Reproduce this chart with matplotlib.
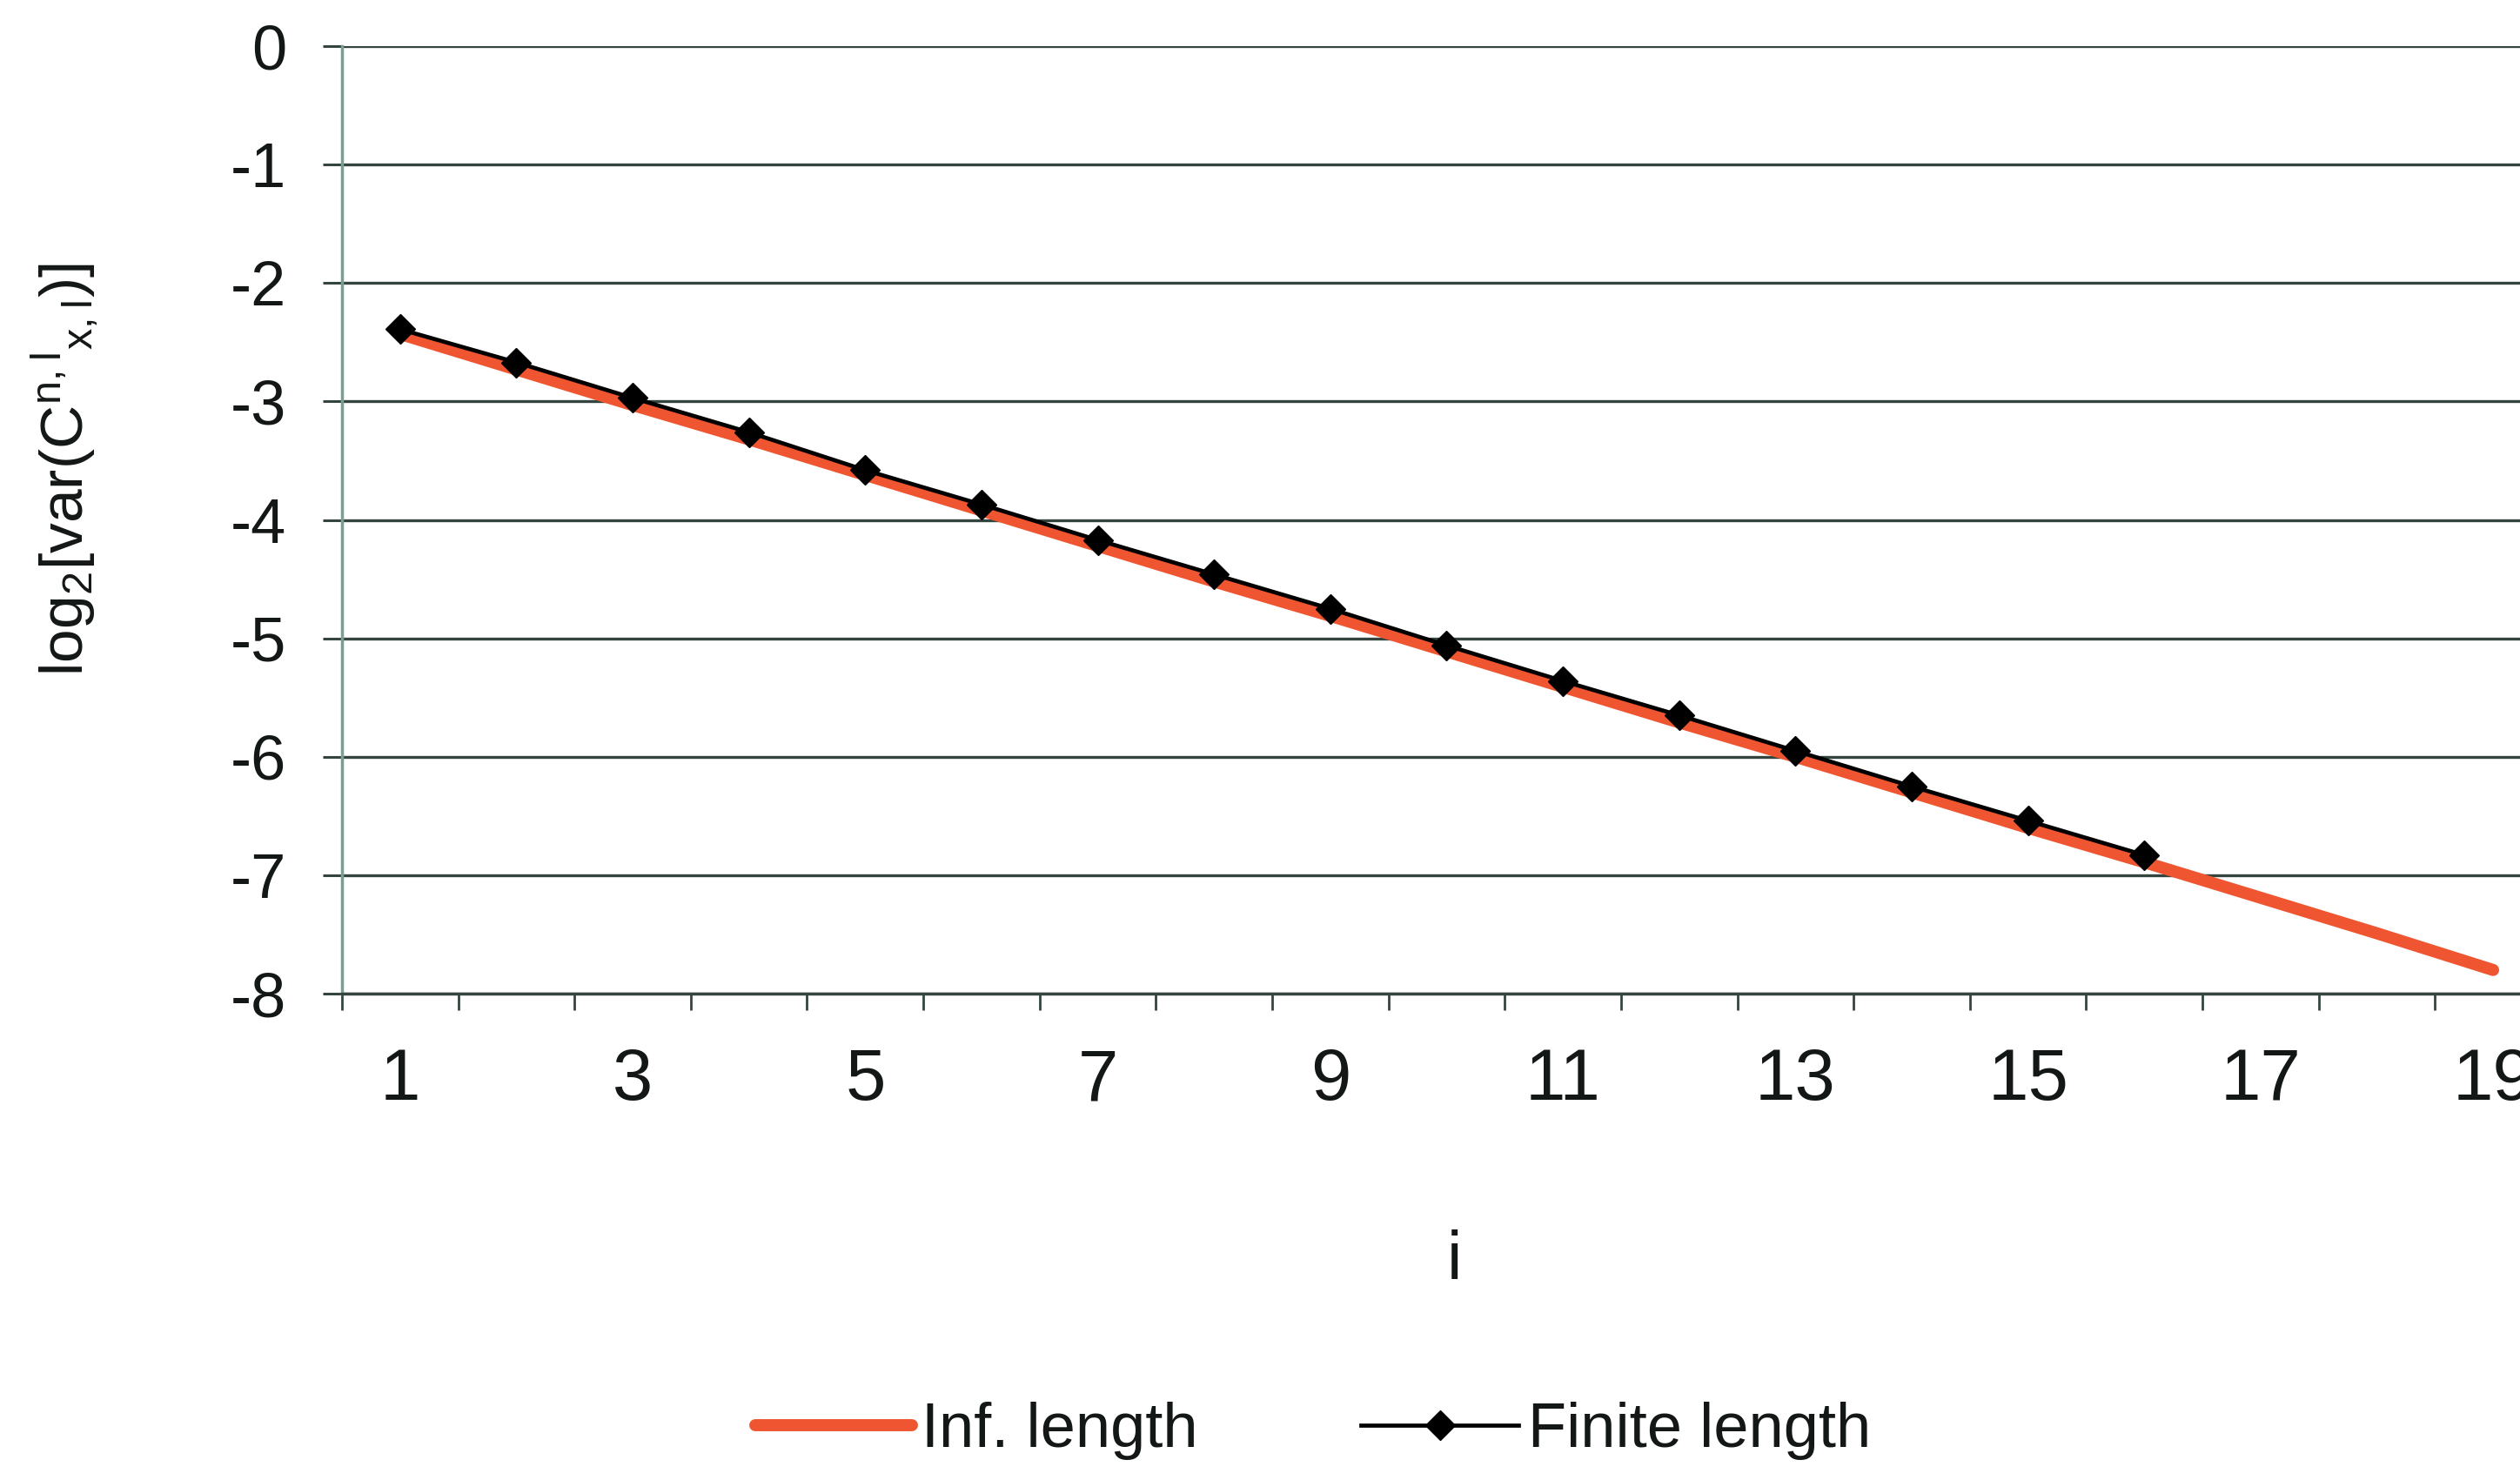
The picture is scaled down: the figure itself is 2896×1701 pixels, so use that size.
import numpy as np
import matplotlib.pyplot as plt

plt.rcParams['font.family'] = ['Liberation Sans', 'DejaVu Sans']
plt.rcParams['mathtext.default'] = 'regular'

# log2 of the variance per level i
i_inf = np.arange(1, 20)
inf_length = [-2.43, -2.73, -3.03, -3.32, -3.62, -3.92, -4.22, -4.52, -4.81, -5.11,
              -5.41, -5.71, -6.00, -6.30, -6.60, -6.89, -7.19, -7.49, -7.80]

i_fin = np.arange(1, 17)
finite_length = [-2.39, -2.67, -2.97, -3.26, -3.58, -3.87, -4.17, -4.46, -4.75, -5.06,
                 -5.36, -5.65, -5.95, -6.25, -6.54, -6.83]

xlabels = [str(k) for k in range(1, 20, 2)]
yticks = list(range(0, -9, -1))

text_col = '#131715'
grid_col = '#34453f'

fig = plt.figure(figsize=(28.96, 17.01), dpi=100)
ax = fig.add_axes([0.1357, 0.3286, 0.8767, 0.6402])

ax.plot(i_inf, inf_length, color='#ee5530', lw=10, solid_capstyle='round',
        label='Inf. length', zorder=3)
ax.plot(i_fin, finite_length, color='black', lw=3.4, marker='D', markersize=17,
        label='Finite length', zorder=4)

ax.set_xlim(0.5, 19.5)
ax.set_ylim(-8, 0)

# category-style axis: ticks between categories, labels on every other one
ax.set_xticks(np.arange(0.5, 20, 1.0))
ax.set_xticklabels([])
ax.set_xticks(np.arange(1, 20, 2), minor=True)
ax.set_xticklabels(xlabels, minor=True, fontsize=60, color=text_col)
ax.tick_params(axis='x', which='major', length=14, width=2, color=grid_col, direction='out')
ax.tick_params(axis='x', which='minor', length=0, pad=44)

ax.set_yticks(yticks)
ax.set_yticklabels([str(v) for v in yticks], fontsize=52, color=text_col)
ax.tick_params(axis='y', length=16, width=2.2, color=grid_col, pad=30)

ax.yaxis.grid(True, color=grid_col, lw=2.4, zorder=1)
ax.set_axisbelow(True)

for side in ['top', 'right']:
    ax.spines[side].set_visible(False)
ax.spines['left'].set_color('#7f9c94')
ax.spines['left'].set_linewidth(2.5)
ax.spines['bottom'].set_color(grid_col)
ax.spines['bottom'].set_linewidth(2.5)

fig.text(0.0255, 0.6825, r'log$_2$[var(C$^{n,l}{}_{x,l}$)]', rotation=90,
         ha='center', va='center', fontsize=50, color=text_col)
fig.text(0.577, 0.148, 'i', ha='center', va='center', fontsize=56, color=text_col)

fig.legend(loc='center', bbox_to_anchor=(0.521, 0.033), ncol=2, frameon=False,
           fontsize=52, handlelength=2.5, handletextpad=0.15, columnspacing=2.6,
           labelcolor=text_col)

fig.savefig('out.png', dpi=100, facecolor='white')
